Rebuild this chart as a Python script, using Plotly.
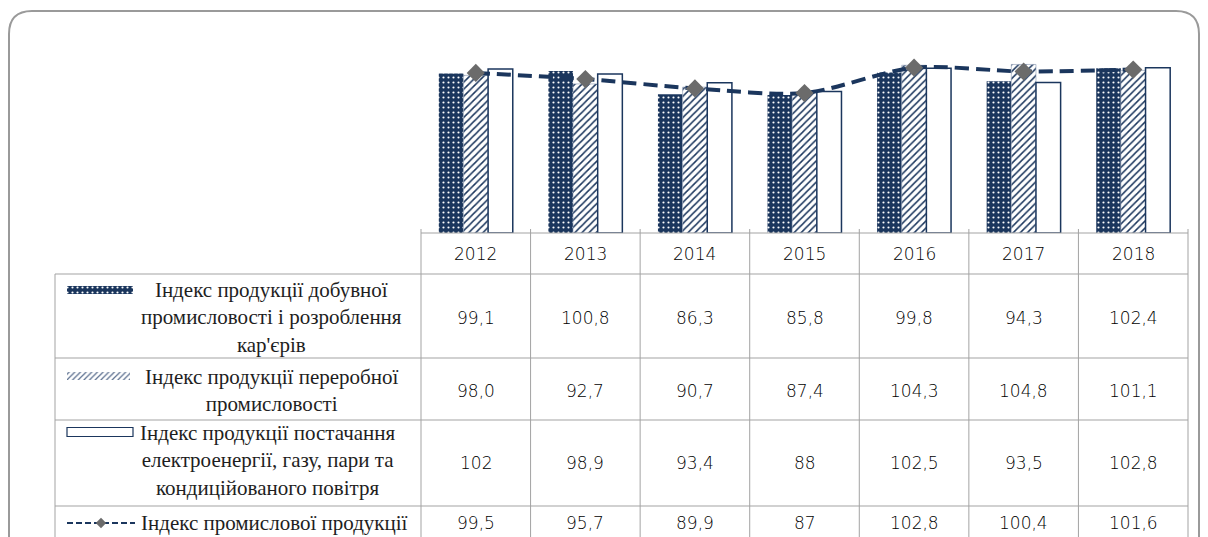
import plotly.graph_objects as go

# ---------------- data ----------------
years = ["2012", "2013", "2014", "2015", "2016", "2017", "2018"]
mining = [99.1, 100.8, 86.3, 85.8, 99.8, 94.3, 102.4]
manufacturing = [98.0, 92.7, 90.7, 87.4, 104.3, 104.8, 101.1]
energy = [102, 98.9, 93.4, 88, 102.5, 93.5, 102.8]
industry = [99.5, 95.7, 89.9, 87, 102.8, 100.4, 101.6]

series_names = [
    "Індекс продукції добувної<br>промисловості і розроблення<br>кар'єрів",
    "Індекс продукції переробної<br>промисловості",
    "Індекс продукції постачання<br>електроенергії, газу, пари та<br>кондиційованого повітря",
    "Індекс промислової продукції",
]

# ---------------- layout constants (pixels) ----------------
W, H = 1208, 537
PX0, PX1 = 421, 1188          # plot / table value columns
PY_TOP, PY_BOT = 40, 233      # plot area vertical extent
TBL_X0 = 55                   # table left edge
ROW_LINES = [274, 358, 420, 506]
HEADER_Y = 254
ROW_TEXT_Y = [317, 390, 460, 523]
ROW_VAL_Y = [318, 391, 463, 523]
LABEL_X = [271, 271, 268, 274]

NAVY = "#1B365D"
GRID = "#A3A3A3"
NUM_FONT = dict(family="DejaVu Sans", size=17, color="#000000", weight=300)
LBL_FONT = dict(family="Liberation Serif", size=21, color="#1E1E1E")


def fmt(v):
    if isinstance(v, float):
        return f"{v:.1f}".replace(".", ",")
    return str(v)


fig = go.Figure()

dots = dict(shape=".", fgcolor="white", bgcolor=NAVY, size=5, solidity=0.15, fillmode="replace")
hatch = dict(shape="/", fgcolor=NAVY, bgcolor="white", size=5, solidity=0.3, fillmode="replace")
hatch_key = dict(shape="/", fgcolor="#5A6E8E", bgcolor="white", size=4, solidity=0.3, fillmode="replace")

fig.add_bar(x=years, y=mining, name="mining",
            marker=dict(color=NAVY, pattern=dots, line=dict(width=0)))
fig.add_bar(x=years, y=manufacturing, name="manufacturing",
            marker=dict(color="white", pattern=hatch, line=dict(width=0.6, color="#8796AE")))
fig.add_bar(x=years, y=energy, name="energy",
            marker=dict(color="white", line=dict(color=NAVY, width=1.5)))
fig.add_scatter(x=years, y=industry, name="industry", mode="lines+markers",
                line=dict(color=NAVY, width=4, dash="14px,7px", shape="spline", smoothing=0.8),
                marker=dict(symbol="diamond", size=14, color="#6B6B6B", line=dict(width=0)))

# ---------------- legend keys inside the table (pixel helper axes) ----------------
fig.add_bar(x=[66], base=[67], y=[290], width=[8], offset=-4, orientation="h",
            xaxis="x2", yaxis="y2", marker=dict(color=NAVY, pattern=dots, line=dict(width=0)))
fig.add_bar(x=[63], base=[67], y=[376], width=[8], offset=-4, orientation="h",
            xaxis="x2", yaxis="y2", marker=dict(color="white", pattern=hatch_key, line=dict(width=0)))
fig.add_bar(x=[66], base=[67], y=[432], width=[9], offset=-4.5, orientation="h",
            xaxis="x2", yaxis="y2", marker=dict(color="white", line=dict(color=NAVY, width=1.2)))
fig.add_scatter(x=[67, 135], y=[523, 523], mode="lines", xaxis="x2", yaxis="y2",
                line=dict(color=NAVY, width=2, dash="6px,3px"))
fig.add_scatter(x=[101], y=[523], mode="markers", xaxis="x2", yaxis="y2",
                marker=dict(symbol="diamond", size=8, color="#6B6B6B"))

# ---------------- table grid ----------------
shapes = []
line = dict(color=GRID, width=1)
r = 23
shapes.append(dict(type="path", xref="x2", yref="y2",
                   path=f"M 9,{H} L 9,{11 + r} Q 9,11 {9 + r},11 L {1199 - r},11 Q 1199,11 1199,{11 + r} L 1199,{H}",
                   line=dict(color="#9A9A9A", width=2)))
shapes.append(dict(type="line", xref="x2", yref="y2", x0=PX0, x1=PX1, y0=PY_BOT, y1=PY_BOT, line=line))
for y in ROW_LINES:
    shapes.append(dict(type="line", xref="x2", yref="y2", x0=TBL_X0, x1=PX1, y0=y, y1=y, line=line))
shapes.append(dict(type="line", xref="x2", yref="y2", x0=TBL_X0, x1=TBL_X0, y0=ROW_LINES[0], y1=H, line=line))
ncat = len(years)
for k in range(ncat + 1):
    x = PX0 + k * (PX1 - PX0) / ncat
    shapes.append(dict(type="line", xref="x2", yref="y2", x0=x, x1=x, y0=PY_BOT - 4, y1=H, line=line))

# ---------------- table texts ----------------
ann = []
for i, yr in enumerate(years):
    ann.append(dict(x=i, xref="x", y=HEADER_Y, yref="y2", text=yr, showarrow=False, font=NUM_FONT))
for row, vals in enumerate([mining, manufacturing, energy, industry]):
    for i, v in enumerate(vals):
        ann.append(dict(x=i, xref="x", y=ROW_VAL_Y[row], yref="y2", text=fmt(v),
                        showarrow=False, font=NUM_FONT))
    ann.append(dict(x=LABEL_X[row], xref="x2", y=ROW_TEXT_Y[row], yref="y2", text=series_names[row],
                    showarrow=False, align="center", font=LBL_FONT))

fig.update_layout(
    width=W, height=H,
    margin=dict(l=0, r=0, t=0, b=0),
    paper_bgcolor="white", plot_bgcolor="rgba(0,0,0,0)",
    barmode="group", bargap=0.325, bargroupgap=0,
    showlegend=False, hovermode=False,
    xaxis=dict(domain=[PX0 / W, PX1 / W], type="category", range=[-0.5, 6.5],
               showline=False, ticks="", showticklabels=False, showgrid=False, zeroline=False,
               anchor="y"),
    yaxis=dict(domain=[1 - PY_BOT / H, 1 - PY_TOP / H], range=[0, 120], visible=False,
               anchor="x"),
    xaxis2=dict(domain=[0, 1], range=[0, W], visible=False, anchor="y2"),
    yaxis2=dict(domain=[0, 1], range=[H, 0], visible=False, anchor="x2"),
    shapes=shapes,
    annotations=ann,
)

fig.write_html("out.html", config={"displayModeBar": False},
               post_script="document.body.style.margin='0';document.body.style.padding='0';")
